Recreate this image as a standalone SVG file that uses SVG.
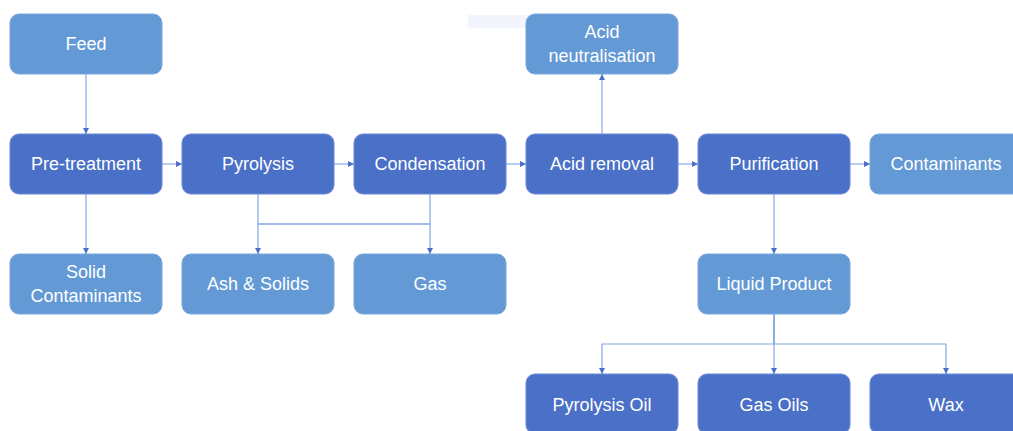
<svg xmlns="http://www.w3.org/2000/svg" width="1013" height="431" viewBox="0 0 1013 431">
  <style>
    .light { fill: #6399d5; stroke: #7aa6dc; stroke-width: 1; }
    .dark  { fill: #4a70c7; stroke: #6a8ad2; stroke-width: 1; }
    .lbl { font-family: "Liberation Sans", Arial, sans-serif; font-size: 18px; fill: #ffffff; text-anchor: middle; dominant-baseline: central; }
    .wire { fill: none; stroke: #86a8e4; stroke-width: 1.2; }
  </style>
  <defs>
    <marker id="arr" viewBox="0 0 6 6" refX="6" refY="3" markerWidth="6" markerHeight="6" markerUnits="userSpaceOnUse" orient="auto">
      <path d="M0,0 L6,3 L0,6 Z" fill="#4a70c7"/>
    </marker>
  </defs>

  <rect width="1013" height="431" fill="#ffffff"/>
  <!-- faint overlay strip near the top -->
  <rect x="468" y="15" width="95" height="13" fill="#f2f5fb"/>

  <g id="connectors">
    <path class="wire" d="M86,74 V134" marker-end="url(#arr)"/>
    <path class="wire" d="M162,164 H182" marker-end="url(#arr)"/>
    <path class="wire" d="M334,164 H354" marker-end="url(#arr)"/>
    <path class="wire" d="M506,164 H526" marker-end="url(#arr)"/>
    <path class="wire" d="M678,164 H698" marker-end="url(#arr)"/>
    <path class="wire" d="M850,164 H870" marker-end="url(#arr)"/>
    <path class="wire" d="M602,134 V74" marker-end="url(#arr)"/>
    <path class="wire" d="M86,194 V254" marker-end="url(#arr)"/>
    <path class="wire" d="M258,194 V224 H430 V254" marker-end="url(#arr)"/>
    <path class="wire" d="M430,194 V224 H258 V254" marker-end="url(#arr)"/>
    <path class="wire" d="M774,194 V254" marker-end="url(#arr)"/>
    <path class="wire" d="M774,314 V344 H602 V374" marker-end="url(#arr)"/>
    <path class="wire" d="M774,314 V374" marker-end="url(#arr)"/>
    <path class="wire" d="M774,314 V344 H946 V374" marker-end="url(#arr)"/>
  </g>

  <g id="feed"><rect class="light" x="10" y="14" width="152" height="60" rx="9"/><text class="lbl" x="86" y="44">Feed</text></g>
  <g id="acid-neutralisation"><rect class="light" x="526" y="14" width="152" height="60" rx="9"/><text class="lbl" x="602" y="32">Acid</text><text class="lbl" x="602" y="56">neutralisation</text></g>

  <g id="pre-treatment"><rect class="dark" x="10" y="134" width="152" height="60" rx="9"/><text class="lbl" x="86" y="164">Pre-treatment</text></g>
  <g id="pyrolysis"><rect class="dark" x="182" y="134" width="152" height="60" rx="9"/><text class="lbl" x="258" y="164">Pyrolysis</text></g>
  <g id="condensation"><rect class="dark" x="354" y="134" width="152" height="60" rx="9"/><text class="lbl" x="430" y="164">Condensation</text></g>
  <g id="acid-removal"><rect class="dark" x="526" y="134" width="152" height="60" rx="9"/><text class="lbl" x="602" y="164">Acid removal</text></g>
  <g id="purification"><rect class="dark" x="698" y="134" width="152" height="60" rx="9"/><text class="lbl" x="774" y="164">Purification</text></g>
  <g id="contaminants"><rect class="light" x="870" y="134" width="152" height="60" rx="9"/><text class="lbl" x="946" y="164">Contaminants</text></g>

  <g id="solid-contaminants"><rect class="light" x="10" y="254" width="152" height="60" rx="9"/><text class="lbl" x="86" y="272">Solid</text><text class="lbl" x="86" y="296">Contaminants</text></g>
  <g id="ash-solids"><rect class="light" x="182" y="254" width="152" height="60" rx="9"/><text class="lbl" x="258" y="284">Ash &amp; Solids</text></g>
  <g id="gas"><rect class="light" x="354" y="254" width="152" height="60" rx="9"/><text class="lbl" x="430" y="284">Gas</text></g>
  <g id="liquid-product"><rect class="light" x="698" y="254" width="152" height="60" rx="9"/><text class="lbl" x="774" y="284">Liquid Product</text></g>

  <g id="pyrolysis-oil"><rect class="dark" x="526" y="374" width="152" height="60" rx="9"/><text class="lbl" x="602" y="405">Pyrolysis Oil</text></g>
  <g id="gas-oils"><rect class="dark" x="698" y="374" width="152" height="60" rx="9"/><text class="lbl" x="774" y="405">Gas Oils</text></g>
  <g id="wax"><rect class="dark" x="870" y="374" width="152" height="60" rx="9"/><text class="lbl" x="946" y="405">Wax</text></g>
</svg>
